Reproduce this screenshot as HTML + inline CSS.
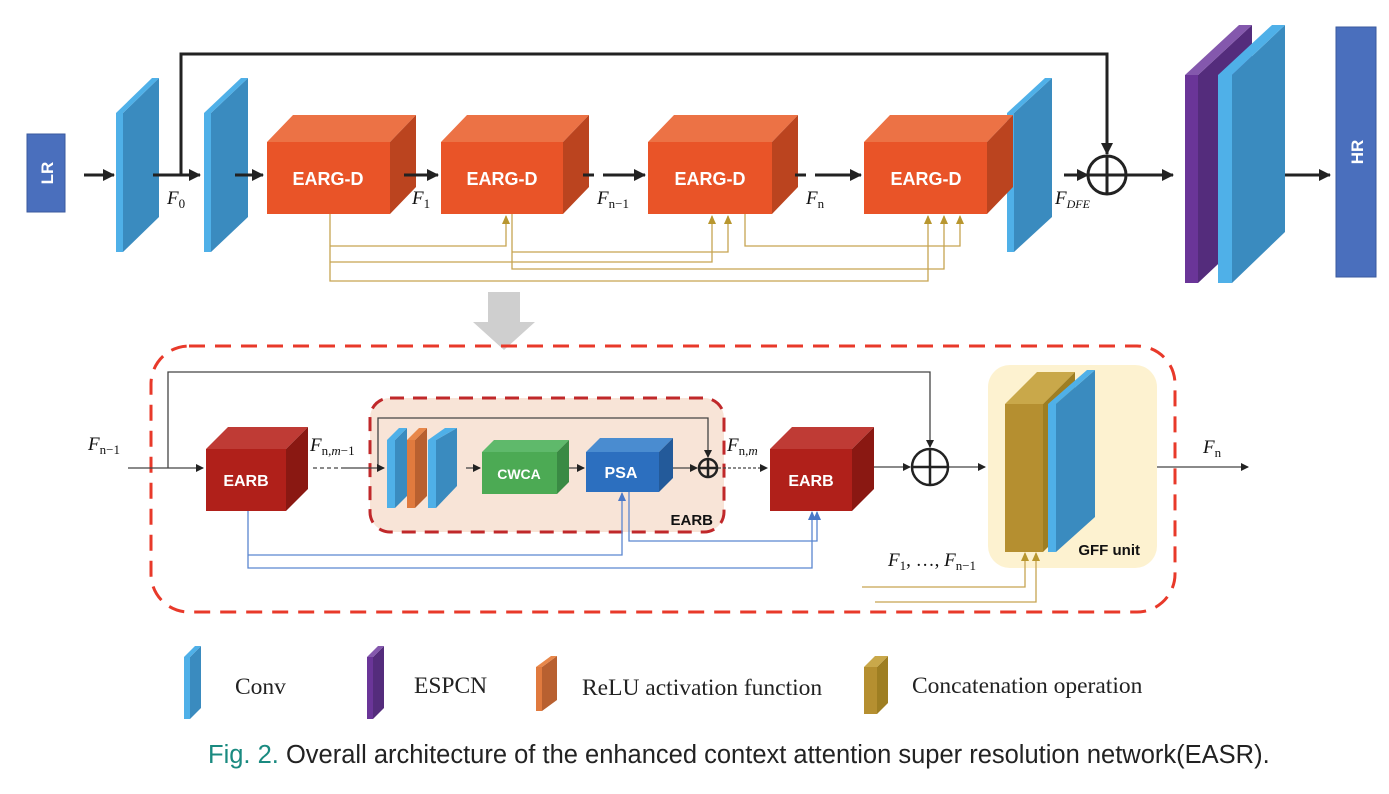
<!DOCTYPE html>
<html><head><meta charset="utf-8"><style>
html,body{margin:0;padding:0;background:#fff;}
svg{display:block;}
.m{font-family:"Liberation Serif",serif;font-style:italic;font-size:19px;fill:#111;}
.s{font-family:"Liberation Serif",serif;font-style:normal;font-size:13px;}
.b{font-family:"Liberation Sans",sans-serif;font-weight:bold;fill:#fff;}
.lg{font-family:"Liberation Serif",serif;font-size:23.5px;fill:#222;}
</style></head><body>
<svg width="1389" height="794" viewBox="0 0 1389 794" xmlns="http://www.w3.org/2000/svg">
<defs>
<marker id="ak" markerWidth="8" markerHeight="8" refX="7" refY="4" orient="auto" markerUnits="userSpaceOnUse"><path d="M0,0L8,4L0,8z" fill="#222"/></marker>
<marker id="ak2" markerWidth="12" markerHeight="12" refX="11" refY="6" orient="auto" markerUnits="userSpaceOnUse"><path d="M0,0L12,6L0,12z" fill="#222"/></marker>
<marker id="ag" markerWidth="9" markerHeight="8" refX="8" refY="4" orient="auto" markerUnits="userSpaceOnUse"><path d="M0,0L9,4L0,8z" fill="#b8962e"/></marker>
<marker id="ab" markerWidth="9" markerHeight="8" refX="8" refY="4" orient="auto" markerUnits="userSpaceOnUse"><path d="M0,0L9,4L0,8z" fill="#4a78c8"/></marker>
</defs>

<!-- LR -->
<rect x="27" y="134" width="38" height="78" fill="#4a6fbd" stroke="#3a5a9e"/>
<text class="b" font-size="17" transform="translate(53,173) rotate(-90)" text-anchor="middle">LR</text>

<!-- conv slabs top -->
<g>
<polygon points="123,113 159,78 159,217 123,252" fill="#3a8bbf"/>
<polygon points="116,113 152,78 159,78 123,113" fill="#4fb0e8"/>
<rect x="116" y="113" width="7" height="139" fill="#4fb0e8"/>
</g>
<g>
<polygon points="211,113 248,78 248,217 211,252" fill="#3a8bbf"/>
<polygon points="204,113 241,78 248,78 211,113" fill="#4fb0e8"/>
<rect x="204" y="113" width="7" height="139" fill="#4fb0e8"/>
</g>
<g>
<polygon points="1014,113 1052,78 1052,217 1014,252" fill="#3a8bbf"/>
<polygon points="1007,113 1045,78 1052,78 1014,113" fill="#4fb0e8"/>
<rect x="1007" y="113" width="7" height="139" fill="#4fb0e8"/>
</g>

<!-- EARG-D blocks -->
<g>
<polygon points="267,142 293,115 416,115 390,142" fill="#ec7245"/>
<polygon points="390,142 416,115 416,187 390,214" fill="#bb441f"/>
<rect x="267" y="142" width="123" height="72" fill="#e95428"/>
<text class="b" x="328" y="185" font-size="18" text-anchor="middle">EARG-D</text>
</g>
<g>
<polygon points="441,142 467,115 589,115 563,142" fill="#ec7245"/>
<polygon points="563,142 589,115 589,187 563,214" fill="#bb441f"/>
<rect x="441" y="142" width="122" height="72" fill="#e95428"/>
<text class="b" x="502" y="185" font-size="18" text-anchor="middle">EARG-D</text>
</g>
<g>
<polygon points="648,142 674,115 798,115 772,142" fill="#ec7245"/>
<polygon points="772,142 798,115 798,187 772,214" fill="#bb441f"/>
<rect x="648" y="142" width="124" height="72" fill="#e95428"/>
<text class="b" x="710" y="185" font-size="18" text-anchor="middle">EARG-D</text>
</g>
<g>
<polygon points="864,142 890,115 1013,115 987,142" fill="#ec7245"/>
<polygon points="987,142 1013,115 1013,187 987,214" fill="#bb441f"/>
<rect x="864" y="142" width="123" height="72" fill="#e95428"/>
<text class="b" x="926" y="185" font-size="18" text-anchor="middle">EARG-D</text>
</g>

<!-- top arrows -->
<g stroke="#222" stroke-width="3" fill="none">
<line x1="84" y1="175" x2="114" y2="175" marker-end="url(#ak2)"/>
<line x1="153" y1="175" x2="200" y2="175" marker-end="url(#ak2)"/>
<line x1="235" y1="175" x2="263" y2="175" marker-end="url(#ak2)"/>
<line x1="404" y1="175" x2="438" y2="175" marker-end="url(#ak2)"/>
<line x1="583" y1="175" x2="594" y2="175"/>
<line x1="603" y1="175" x2="645" y2="175" marker-end="url(#ak2)"/>
<line x1="795" y1="175" x2="806" y2="175"/>
<line x1="815" y1="175" x2="861" y2="175" marker-end="url(#ak2)"/>
<line x1="1064" y1="175" x2="1088" y2="175" marker-end="url(#ak2)"/>
<line x1="1126" y1="175" x2="1173" y2="175" marker-end="url(#ak2)"/>
<line x1="1285" y1="175" x2="1330" y2="175" marker-end="url(#ak2)"/>
<polyline points="181,175 181,54 1107,54 1107,154" marker-end="url(#ak2)"/>
<circle cx="1107" cy="175" r="19"/>
<line x1="1088" y1="175" x2="1126" y2="175"/>
<line x1="1107" y1="156" x2="1107" y2="194"/>
</g>
<text class="m" x="167" y="204">F<tspan class="s" dy="4" font-size="13">0</tspan></text>
<text class="m" x="412" y="204">F<tspan class="s" dy="4" font-size="13">1</tspan></text>
<text class="m" x="597" y="204">F<tspan class="s" dy="4" font-size="13">n−1</tspan></text>
<text class="m" x="806" y="204">F<tspan class="s" dy="4" font-size="13">n</tspan></text>
<text class="m" x="1055" y="204">F<tspan dy="4" font-size="12">DFE</tspan></text>

<!-- ESPCN + conv -->
<polygon points="1198,75 1252,25 1252,232 1198,283" fill="#542c7c"/>
<polygon points="1185,75 1239,25 1252,25 1198,75" fill="#8458ad"/>
<rect x="1185" y="75" width="13" height="208" fill="#6a3598"/>
<polygon points="1232,75 1285,25 1285,232 1232,283" fill="#3a8bbf"/>
<polygon points="1218,75 1272,25 1285,25 1232,75" fill="#4fb0e8"/>
<rect x="1218" y="75" width="14" height="208" fill="#4fb0e8"/>
<!-- HR -->
<rect x="1336" y="27" width="40" height="250" fill="#4a6fbd" stroke="#3a5a9e"/>
<text class="b" font-size="17" transform="translate(1363,152) rotate(-90)" text-anchor="middle">HR</text>

<!-- gold lines top -->
<g stroke="#c7a451" stroke-width="1.3" fill="none">
<polyline points="330,214 330,281 928,281 928,216" marker-end="url(#ag)"/>
<polyline points="330,246 506,246 506,216" marker-end="url(#ag)"/>
<polyline points="330,262 712,262 712,216" marker-end="url(#ag)"/>
<polyline points="512,214 512,269 944,269 944,216" marker-end="url(#ag)"/>
<polyline points="512,252 728,252 728,216" marker-end="url(#ag)"/>
<polyline points="745,214 745,246 960,246 960,216" marker-end="url(#ag)"/>
</g>

<!-- gray arrow -->
<polygon points="488,292 520,292 520,322 535,322 504,350 473,322 488,322" fill="#cfcfcf"/>

<!-- big dashed -->
<rect x="151" y="346" width="1024" height="266" rx="38" fill="none" stroke="#e8392a" stroke-width="3" stroke-dasharray="16,10"/>
<rect x="370" y="398" width="354" height="134" rx="20" fill="#f8e4d7" stroke="#c0282a" stroke-width="3" stroke-dasharray="14,9"/>
<rect x="988" y="365" width="169" height="203" rx="22" fill="#fdf2d0"/>

<g stroke="#444" stroke-width="1.3" fill="none">
<line x1="128" y1="468" x2="203" y2="468" marker-end="url(#ak)"/>
<polyline points="168,468 168,372 930,372 930,447" marker-end="url(#ak)"/>
<polyline points="378,467 378,418 708,418 708,457" marker-end="url(#ak)"/>
<line x1="313" y1="468" x2="345" y2="468" stroke-dasharray="4,3"/>
<line x1="345" y1="468" x2="384" y2="468" marker-end="url(#ak)"/>
<line x1="466" y1="468" x2="480" y2="468" marker-end="url(#ak)"/>
<line x1="558" y1="468" x2="584" y2="468" marker-end="url(#ak)"/>
<line x1="663" y1="468" x2="697" y2="468" marker-end="url(#ak)"/>
<line x1="718" y1="468" x2="767" y2="468" stroke-dasharray="3,2" marker-end="url(#ak)"/>
<line x1="874" y1="467" x2="910" y2="467" marker-end="url(#ak)"/>
<line x1="949" y1="467" x2="985" y2="467" marker-end="url(#ak)"/>
<line x1="1157" y1="467" x2="1248" y2="467" marker-end="url(#ak)"/>
</g>
<g stroke="#222" stroke-width="2.5" fill="none">
<circle cx="930" cy="467" r="18"/><line x1="912" y1="467" x2="948" y2="467"/><line x1="930" y1="449" x2="930" y2="485"/>
<circle cx="708" cy="468" r="9"/><line x1="699" y1="468" x2="717" y2="468"/><line x1="708" y1="459" x2="708" y2="477"/>
</g>

<g>
<polygon points="206,449 228,427 308,427 286,449" fill="#bf3b35"/>
<polygon points="286,449 308,427 308,489 286,511" fill="#8a1812"/>
<rect x="206" y="449" width="80" height="62" fill="#b0201a"/>
<text class="b" x="246" y="486" font-size="16" text-anchor="middle">EARB</text>
</g>
<g>
<polygon points="770,449 792,427 874,427 852,449" fill="#bf3b35"/>
<polygon points="852,449 874,427 874,489 852,511" fill="#8a1812"/>
<rect x="770" y="449" width="82" height="62" fill="#b0201a"/>
<text class="b" x="811" y="486" font-size="16" text-anchor="middle">EARB</text>
</g>
<polygon points="395,440 407,428 407,496 395,508" fill="#3a8bbf"/><polygon points="387,440 399,428 407,428 395,440" fill="#4fb0e8"/><rect x="387" y="440" width="8" height="68" fill="#4fb0e8"/>
<polygon points="415,440 427,428 427,496 415,508" fill="#b86030"/><polygon points="407,440 419,428 427,428 415,440" fill="#e8874a"/><rect x="407" y="440" width="8" height="68" fill="#e07a3e"/>
<polygon points="436,440 457,428 457,486 436,508" fill="#3a8bbf"/><polygon points="428,440 445,428 457,428 436,440" fill="#4fb0e8"/><rect x="428" y="440" width="8" height="68" fill="#4fb0e8"/>
<polygon points="482,452 494,440 569,440 557,452" fill="#5fb96b"/>
<polygon points="557,452 569,440 569,482 557,494" fill="#3a8a44"/>
<rect x="482" y="452" width="75" height="42" fill="#4caa54"/>
<text class="b" x="519" y="479" font-size="14" text-anchor="middle">CWCA</text>
<polygon points="586,452 600,438 673,438 659,452" fill="#4a8cd0"/>
<polygon points="659,452 673,438 673,478 659,492" fill="#235a9a"/>
<rect x="586" y="452" width="73" height="40" fill="#2c6fbf"/>
<text class="b" x="621" y="478" font-size="16" text-anchor="middle">PSA</text>
<text x="713" y="525" font-family="Liberation Sans,sans-serif" font-weight="bold" font-size="15" fill="#111" text-anchor="end">EARB</text>

<g stroke="#5a86d0" stroke-width="1.3" fill="none">
<polyline points="248,511 248,568 812,568 812,512" marker-end="url(#ab)"/>
<polyline points="248,555 622,555 622,493" marker-end="url(#ab)"/>
<polyline points="629,492 629,541 817,541 817,512" marker-end="url(#ab)"/>
</g>

<polygon points="1005,404 1037,372 1075,372 1043,404" fill="#c9a84a"/>
<polygon points="1043,404 1075,372 1075,520 1043,552" fill="#9e7e22"/>
<rect x="1005" y="404" width="38" height="148" fill="#b58f30"/>
<polygon points="1056,404 1095,370 1095,517 1056,552" fill="#3a8bbf"/>
<polygon points="1048,404 1087,370 1095,370 1056,404" fill="#4fb0e8"/>
<rect x="1048" y="404" width="8" height="148" fill="#4fb0e8"/>
<text x="1140" y="555" font-family="Liberation Sans,sans-serif" font-weight="bold" font-size="15" fill="#111" text-anchor="end">GFF unit</text>

<g stroke="#c7a451" stroke-width="1.3" fill="none">
<polyline points="862,587 1025,587 1025,553" marker-end="url(#ag)"/>
<polyline points="875,602 1036,602 1036,553" marker-end="url(#ag)"/>
</g>

<text class="m" x="88" y="450">F<tspan class="s" dy="4" font-size="13">n−1</tspan></text>
<text class="m" x="310" y="451">F<tspan class="s" dy="4" font-size="13">n,<tspan font-style="italic">m</tspan>−1</tspan></text>
<text class="m" x="727" y="451">F<tspan class="s" dy="4" font-size="13">n,<tspan font-style="italic">m</tspan></tspan></text>
<text class="m" x="1203" y="453">F<tspan class="s" dy="4" font-size="13">n</tspan></text>
<text class="m" x="888" y="566">F<tspan class="s" dy="4" font-size="13">1</tspan><tspan dy="-4" font-style="normal">, …, </tspan>F<tspan class="s" dy="4" font-size="13">n−1</tspan></text>

<!-- legend -->
<polygon points="190,657 201,646 201,708 190,719" fill="#3a8bbf"/><polygon points="184,657 195,646 201,646 190,657" fill="#4fb0e8"/><rect x="184" y="657" width="6" height="62" fill="#4fb0e8"/>
<text class="lg" x="235" y="694">Conv</text>
<polygon points="373,657 384,646 384,708 373,719" fill="#542c7c"/><polygon points="367,657 378,646 384,646 373,657" fill="#8458ad"/><rect x="367" y="657" width="6" height="62" fill="#6a3598"/>
<text class="lg" x="414" y="693">ESPCN</text>
<polygon points="542,667 557,656 557,700 542,711" fill="#b86030"/><polygon points="536,667 551,656 557,656 542,667" fill="#e8874a"/><rect x="536" y="667" width="6" height="44" fill="#e07a3e"/>
<text class="lg" x="582" y="695">ReLU activation function</text>
<polygon points="877,667 888,656 888,703 877,714" fill="#9e7e22"/><polygon points="864,667 875,656 888,656 877,667" fill="#c9a84a"/><rect x="864" y="667" width="13" height="47" fill="#b58f30"/>
<text class="lg" x="912" y="693">Concatenation operation</text>

<text x="208" y="763" font-family="Liberation Sans,sans-serif" font-size="25.5" fill="#222"><tspan fill="#1a8a80">Fig. 2.</tspan>  Overall architecture of the enhanced context attention super resolution network(EASR).</text>
</svg>
</body></html>
